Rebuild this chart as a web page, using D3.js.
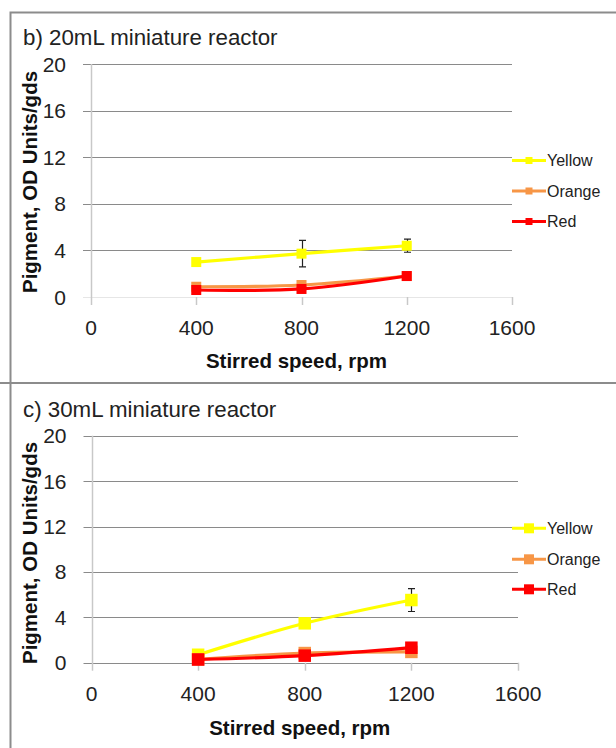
<!DOCTYPE html>
<html>
<head>
<meta charset="utf-8">
<script src="https://cdn.jsdelivr.net/npm/d3@7"></script>
<style>
  html, body { margin: 0; padding: 0; background: #fff; }
  svg { display: block; font-family: "Liberation Sans", Arial, sans-serif; }
</style>
</head>
<body>
<svg id="chart" width="616" height="748"></svg>
<script>
// Stirred speed (rpm) at which pigment was measured
const speeds = [400, 800, 1200];
const seriesNames = ["Yellow", "Orange", "Red"];
const xTicks = [0, 400, 800, 1200, 1600];
const yTicks = [0, 4, 8, 12, 16, 20];

// b) 20 mL miniature reactor
const b_yellow = [3.0, 3.72, 4.4];
const b_yellowErr = [0, 1.14, 0.56];
const b_orange = [0.88, 1.03, 1.8];
const b_red = [0.6, 0.69, 1.8];

// c) 30 mL miniature reactor
const c_yellow = [0.7, 3.47, 5.52];
const c_yellowErr = [0, 0, 1.01];
const c_orange = [0.3, 0.85, 0.95];
const c_red = [0.28, 0.62, 1.32];

const colors = { Yellow: "#ffff00", Orange: "#f79646", Red: "#ff0000" };

const svg = d3.select("#chart");

// outer frames of the two panels
svg.append("path")
  .attr("d", "M616,12.5 H10.5 V382 M0,383 H616 M10.5,383 V748")
  .attr("fill", "none").attr("stroke", "#8c8c8c").attr("stroke-width", 2);

function drawPanel(cfg) {
  const g = svg.append("g");
  const x = d3.scaleLinear().domain([0, 1600]).range([cfg.x0, cfg.x1]);
  const y = d3.scaleLinear().domain([0, 20]).range([cfg.y0, cfg.y1]);

  // horizontal gridlines (with tick stubs left of the axis)
  g.selectAll(".grid").data(yTicks.filter(d => d > 0)).join("line")
    .attr("x1", cfg.x0 - 8).attr("x2", cfg.x1)
    .attr("y1", d => Math.round(y(d)) + 0.5).attr("y2", d => Math.round(y(d)) + 0.5)
    .attr("stroke", "#8a8a8a").attr("stroke-width", 1);

  // x axis line at zero
  g.append("line")
    .attr("x1", cfg.x0 - 8).attr("x2", cfg.x1)
    .attr("y1", Math.round(y(0)) + 0.5).attr("y2", Math.round(y(0)) + 0.5)
    .attr("stroke", cfg.zeroLine).attr("stroke-width", 1);

  // y axis line
  g.append("line")
    .attr("x1", Math.round(x(0)) + 0.5).attr("x2", Math.round(x(0)) + 0.5)
    .attr("y1", y(20)).attr("y2", y(0) + 8)
    .attr("stroke", "#c8c8c8").attr("stroke-width", 1.5);

  // x tick marks
  g.selectAll(".xt").data(xTicks.filter(d => d > 0)).join("line")
    .attr("x1", d => Math.round(x(d)) + 0.5).attr("x2", d => Math.round(x(d)) + 0.5)
    .attr("y1", y(0)).attr("y2", y(0) + 8)
    .attr("stroke", "#c8c8c8").attr("stroke-width", 1.5);

  // tick labels
  g.selectAll(".yl").data(yTicks).join("text")
    .attr("x", cfg.x0 - 25).attr("y", d => y(d)).attr("dy", "0.36em")
    .attr("text-anchor", "end").attr("font-size", 21).attr("fill", "#222")
    .text(d => d);
  g.selectAll(".xl").data(xTicks).join("text")
    .attr("x", d => x(d)).attr("y", cfg.xTickBase)
    .attr("text-anchor", "middle").attr("font-size", 21).attr("fill", "#222")
    .text(d => d);

  // axis titles
  g.append("text")
    .attr("x", (cfg.x0 + cfg.x1) / 2 - 5).attr("y", cfg.xTitleBase)
    .attr("text-anchor", "middle").attr("font-size", 20.5).attr("font-weight", "bold")
    .attr("fill", "#111").text("Stirred speed, rpm");
  g.append("text")
    .attr("transform", `translate(37,${cfg.yTitleMid}) rotate(-90)`)
    .attr("text-anchor", "middle").attr("font-size", 20.5).attr("font-weight", "bold")
    .attr("fill", "#111").text("Pigment, OD Units/gds");

  // panel title
  g.append("text")
    .attr("x", 23).attr("y", cfg.titleBase)
    .attr("font-size", 22.3).attr("fill", "#222").text(cfg.title);

  const line = d3.line()
    .x((d, i) => x(speeds[i])).y(d => y(d))
    .curve(d3.curveCatmullRom.alpha(0.5));

  cfg.series.forEach(s => {
    const sg = g.append("g");
    sg.append("path").datum(s.values)
      .attr("d", line).attr("fill", "none")
      .attr("stroke", colors[s.name]).attr("stroke-width", 3.2);
    if (s.err) {
      const eb = s.values.map((v, i) => ({ x: speeds[i], v, e: s.err[i] })).filter(d => d.e > 0);
      eb.forEach(d => {
        const px = Math.round(x(d.x)) + 0.5;
        sg.append("path")
          .attr("d", `M${px},${y(d.v + d.e)}V${y(d.v - d.e)}M${px - 3.5},${y(d.v + d.e)}H${px + 3.5}M${px - 3.5},${y(d.v - d.e)}H${px + 3.5}`)
          .attr("fill", "none").attr("stroke", "#222").attr("stroke-width", 1.2);
      });
    }
    sg.selectAll("rect").data(s.values).join("rect")
      .attr("x", (d, i) => x(speeds[i]) - cfg.marker / 2)
      .attr("y", d => y(d) - cfg.marker / 2)
      .attr("width", cfg.marker).attr("height", cfg.marker)
      .attr("fill", colors[s.name]);
  });

  // legend
  const lg = g.append("g");
  seriesNames.forEach((name, i) => {
    const ly = cfg.legendY[i];
    lg.append("line").attr("x1", 512).attr("x2", 546).attr("y1", ly).attr("y2", ly)
      .attr("stroke", colors[name]).attr("stroke-width", 3);
    lg.append("rect").attr("x", 529 - cfg.legendMarker / 2).attr("y", ly - cfg.legendMarker / 2)
      .attr("width", cfg.legendMarker).attr("height", cfg.legendMarker).attr("fill", colors[name]);
    lg.append("text").attr("x", 547).attr("y", ly).attr("dy", "0.36em")
      .attr("font-size", 16).attr("fill", "#222").text(name);
  });
}

drawPanel({
  title: "b) 20mL miniature reactor",
  titleBase: 44.5,
  x0: 91, x1: 512, y0: 297, y1: 64,
  xTickBase: 335, xTitleBase: 368, yTitleMid: 182,
  zeroLine: "#e6e6e6",
  marker: 10, legendMarker: 7,
  legendY: [160.5, 191, 221.5],
  series: [
    { name: "Yellow", values: b_yellow, err: b_yellowErr },
    { name: "Orange", values: b_orange },
    { name: "Red", values: b_red }
  ]
});

drawPanel({
  title: "c) 30mL miniature reactor",
  titleBase: 417,
  x0: 91.5, x1: 518, y0: 662.7, y1: 435.7,
  xTickBase: 701, xTitleBase: 735, yTitleMid: 553,
  zeroLine: "#8a8a8a",
  marker: 12.5, legendMarker: 10,
  legendY: [528.3, 559.3, 589.3],
  series: [
    { name: "Yellow", values: c_yellow, err: c_yellowErr },
    { name: "Orange", values: c_orange },
    { name: "Red", values: c_red }
  ]
});
</script>
</body>
</html>
